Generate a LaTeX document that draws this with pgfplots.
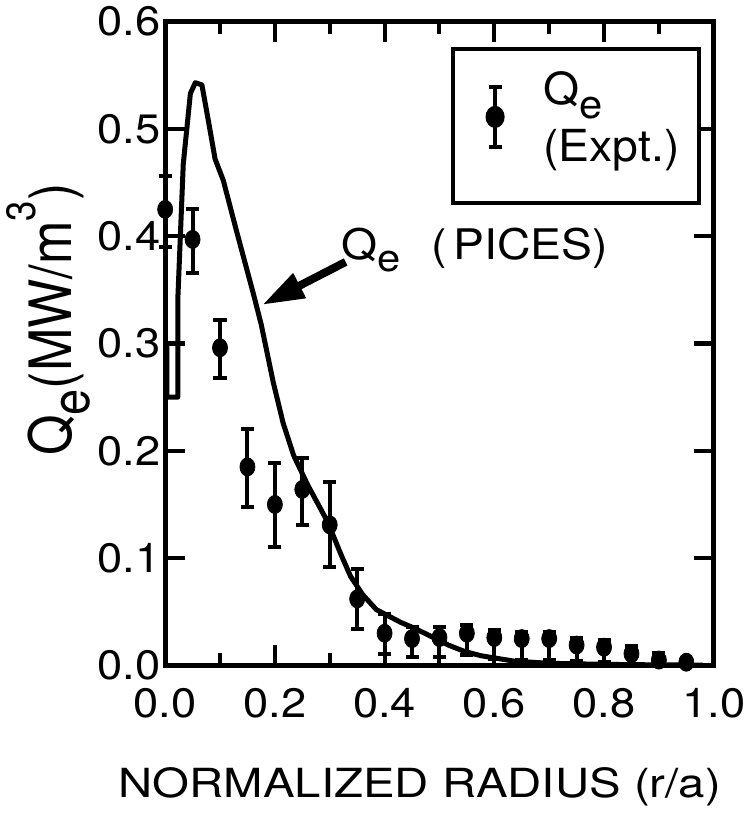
\documentclass[border=0pt]{standalone}
\usepackage{fontspec}
\setmainfont{TeX Gyre Heros}
\usepackage{graphicx}
\usepackage{pgfplots}
\pgfplotsset{compat=1.18}
\usepackage{pgfplotstable}
\usetikzlibrary{arrows.meta}

\pgfplotstableread{
x y ep em
0.00 0.425 0.031 0.035
0.05 0.397 0.028 0.031
0.10 0.296 0.026 0.028
0.15 0.185 0.035 0.037
0.20 0.150 0.039 0.040
0.25 0.164 0.029 0.033
0.30 0.131 0.040 0.039
0.35 0.062 0.028 0.028
0.40 0.030 0.018 0.019
0.45 0.025 0.011 0.017
0.50 0.026 0.010 0.018
0.55 0.030 0.008 0.020
0.60 0.026 0.007 0.020
0.65 0.025 0.006 0.020
0.70 0.025 0.006 0.020
0.75 0.019 0.007 0.015
0.80 0.017 0.007 0.014
0.85 0.011 0.007 0.010
0.90 0.005 0.007 0.005
0.95 0.003 0.003 0.003
}\expt

\pgfplotstableread{
x y
0.003 0.300
0.003 0.250
0.023 0.250
0.023 0.340
0.033 0.467
0.046 0.533
0.055 0.543
0.067 0.541
0.079 0.507
0.091 0.472
0.106 0.452
0.130 0.405
0.161 0.346
0.175 0.318
0.197 0.264
0.215 0.226
0.234 0.196
0.260 0.168
0.296 0.134
0.320 0.104
0.338 0.083
0.360 0.066
0.385 0.052
0.430 0.040
0.453 0.035
0.485 0.027
0.516 0.019
0.546 0.013
0.576 0.009
0.636 0.004
0.700 0.002
0.800 0.001
0.900 0.0005
0.980 0.0003
}\pices

\newcommand{\Qe}{Q\raisebox{-0.3em}{\scalebox{0.9}{e}}}

\begin{document}
\begin{tikzpicture}
\begin{axis}[
  scale only axis, width=273.5pt, height=321pt,
  xmin=0, xmax=1, ymin=0, ymax=0.6,
  clip=false,
  tick align=inside, xtick pos=both, ytick pos=both,
  xtick={0,0.2,0.4,0.6,0.8,1},
  minor xtick={0.1,0.3,0.5,0.7,0.9},
  ytick={0,0.1,0.2,0.3,0.4,0.5,0.6},
  major tick length=10pt, minor tick length=6pt,
  axis line style={line width=2.5pt},
  every tick/.style={black, line width=2pt},
  /pgf/number format/assume math mode=true,
  tick label style={font=\fontsize{20.5}{25}\selectfont, xscale=1.1},
  x tick label style={/pgf/number format/.cd, fixed, fixed zerofill, precision=1, /tikz/.cd, yshift=-7.7pt},
  y tick label style={/pgf/number format/.cd, fixed, fixed zerofill, precision=1, /tikz/.cd, xshift=1.5pt},
  xlabel={\scalebox{1.18}[1]{NORMALIZED RADIUS (r/a)}},
  xlabel style={at={(axis description cs:0.464,-0.2056)}, anchor=base, font=\fontsize{20}{24}\selectfont},
  ylabel={\scalebox{1}[1.12]{\Qe(MW/m\raisebox{0.62em}{\scalebox{0.7}{3}})}},
  ylabel style={at={(axis description cs:-0.170,0.537)}, anchor=base, font=\fontsize{26}{31}\selectfont},
  legend style={at={(axis description cs:0.521,0.961)}, anchor=north west, draw=black, line width=2pt,
    inner xsep=9.5pt, inner ysep=12pt, column sep=18.75pt, row sep=3pt,
    font=\fontsize{22}{26}\selectfont,
    nodes={inner sep=0pt, text height=16pt, text depth=9pt}},
  legend cell align=left,
]
\addplot[only marks, mark=*, mark size=4.5pt, mark options={xscale=0.83, fill=black, draw=black},
  legend image code/.code={
    \path (-10.5pt,0pt) (4.25pt,0pt);
    \begin{scope}[overlay, yshift=-9.5pt]
      \draw[line width=2pt, black] (0pt,-15pt) -- (0pt,15pt)
        (-3.25pt,-15pt) -- (3.25pt,-15pt) (-3.25pt,15pt) -- (3.25pt,15pt);
      \fill[black] (0pt,0pt) ellipse[x radius=3.75pt, y radius=4.5pt];
    \end{scope}
  },
  error bars/.cd, y dir=both, y explicit,
  error bar style={line width=2pt, black},
  error mark options={rotate=90, mark size=3.25pt, line width=2pt, black},
  ]
  table[x=x, y=y, y error plus=ep, y error minus=em]{\expt};
\addlegendentry{\scalebox{1.05}[1]{\Qe}}
\addlegendimage{empty legend}
\addlegendentry{\scalebox{1.05}[1]{(Expt.)}}
\addplot[black, line width=2.5pt, line join=round, forget plot] table[x=x, y=y]{\pices};
\node[anchor=base west, font=\fontsize{21}{25}\selectfont, inner sep=0pt] at (axis cs:0.320,0.3785) {\scalebox{1.1}[1]{\Qe\hspace{14pt}(\hspace{3pt}PICES)}};
\draw[black, line width=4pt, -{Triangle[length=21pt, width=13pt]}] (axis cs:0.329,0.376) -- (axis cs:0.177,0.336);
\end{axis}
\end{tikzpicture}
\end{document}
